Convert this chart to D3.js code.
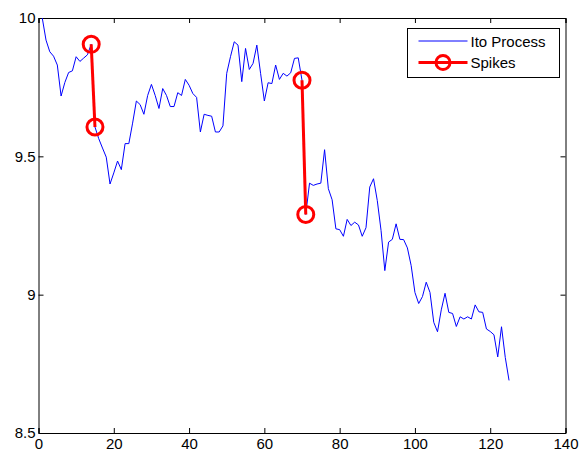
<!DOCTYPE html>
<html>
<head>
<meta charset="utf-8">
<script src="https://cdnjs.cloudflare.com/ajax/libs/d3/7.8.5/d3.min.js"></script>
<style>
body { margin: 0; background: #fff; }
.axis text { font-family: "Liberation Sans", Arial, sans-serif; font-size: 15px; fill: #000; }
.axis path, .axis line { stroke: #000; }
</style>
</head>
<body>
<div id="chart"></div>
<script>
var w = 580, h = 454;
var margin = {top: 18, right: 14.5, bottom: 21, left: 38.5};

// Ito process, sampled at t = 1..125
var itoValues = [
	10.00, 9.92, 9.878, 9.862, 9.83, 9.718, 9.767, 9.803, 9.809, 9.86,
	9.843, 9.855, 9.867, 9.905, 9.606, 9.564, 9.53, 9.497, 9.40, 9.44,
	9.483, 9.452, 9.546, 9.546, 9.62, 9.70, 9.687, 9.652, 9.72, 9.76,
	9.72, 9.673, 9.745, 9.72, 9.68, 9.68, 9.73, 9.72, 9.778, 9.757,
	9.727, 9.713, 9.588, 9.652, 9.648, 9.645, 9.588, 9.588, 9.61, 9.80,
	9.86, 9.914, 9.902, 9.77, 9.89, 9.814, 9.836, 9.902, 9.80, 9.70,
	9.766, 9.763, 9.83, 9.778, 9.80, 9.79, 9.802, 9.854, 9.856, 9.775,
	9.29, 9.403, 9.395, 9.40, 9.403, 9.524, 9.383, 9.343, 9.238, 9.235,
	9.211, 9.272, 9.25, 9.262, 9.252, 9.211, 9.242, 9.389, 9.419, 9.34,
	9.232, 9.087, 9.19, 9.20, 9.256, 9.20, 9.199, 9.169, 9.105, 9.008,
	8.968, 8.993, 9.045, 9.008, 8.90, 8.866, 8.945, 9.005, 8.936, 8.932,
	8.885, 8.92, 8.912, 8.92, 8.912, 8.963, 8.938, 8.936, 8.876, 8.867,
	8.855, 8.775, 8.884, 8.773, 8.69
];
var itoTimes = itoValues.map(function(d, i) { return i + 1; });

// the two jumps (before / after)
var spikes = [
	[[14, 9.905], [15, 9.606]],
	[[70, 9.775], [71, 9.29]]
];

var xTicks = [0, 20, 40, 60, 80, 100, 120, 140];
var yTicks = [8.5, 9, 9.5, 10];
var legendLabels = ["Ito Process", "Spikes"];

var data = itoTimes.map(function(t, i) {
	return {"t": t, "v": itoValues[i]};
});

var svg = d3.select("#chart")
			.append("svg")
			.attr("width", w)
			.attr("height", h);

/*Scales*/
var xScale = d3.scaleLinear()
				.domain([0, 140])
				.range([margin.left, w - margin.right]);
var yScale = d3.scaleLinear()
				.domain([8.5, 10])
				.range([h - margin.bottom, margin.top]);

svg.append("defs").append("clipPath")
	.attr("id", "clip")
	.append("rect")
	.attr("x", xScale(0))
	.attr("y", yScale(10))
	.attr("width", xScale(140) - xScale(0))
	.attr("height", yScale(8.5) - yScale(10));

/*Axes*/
var tick = 5;
svg.append("g")
	.attr("class", "axis")
	.attr("transform", "translate(0," + yScale(8.5) + ")")
	.call(d3.axisBottom(xScale).tickValues(xTicks).tickSize(-tick).tickPadding(3))
	.call(function(g) { g.selectAll("text").attr("dy", "0.85em"); });
svg.append("g")
	.attr("class", "axis")
	.attr("transform", "translate(0," + yScale(10) + ")")
	.call(d3.axisTop(xScale).tickValues(xTicks).tickSize(-tick).tickFormat(""));
svg.append("g")
	.attr("class", "axis")
	.attr("transform", "translate(" + xScale(0) + ",0)")
	.call(d3.axisLeft(yScale).tickValues(yTicks).tickSize(-tick).tickPadding(3).tickFormat(d3.format("")));
svg.append("g")
	.attr("class", "axis")
	.attr("transform", "translate(" + xScale(140) + ",0)")
	.call(d3.axisRight(yScale).tickValues(yTicks).tickSize(-tick).tickFormat(""));

/*Draw Ito line*/
var line = d3.line()
			.x(function(d) { return xScale(d.t); })
			.y(function(d) { return yScale(d.v); });
svg.append("path")
	.datum(data)
	.attr("clip-path", "url(#clip)")
	.attr("fill", "none")
	.attr("stroke", "#0000ff")
	.attr("stroke-width", 1)
	.attr("d", line);

/*Draw spikes*/
var spikeLine = d3.line()
			.x(function(d) { return xScale(d[0]); })
			.y(function(d) { return yScale(d[1]); });
spikes.forEach(function(s) {
	svg.append("path")
		.datum(s)
		.attr("fill", "none")
		.attr("stroke", "#ff0000")
		.attr("stroke-width", 3)
		.attr("d", spikeLine);
	svg.selectAll(null)
		.data(s)
		.enter()
		.append("circle")
		.attr("cx", function(d) { return xScale(d[0]); })
		.attr("cy", function(d) { return yScale(d[1]); })
		.attr("r", 8)
		.attr("fill", "none")
		.attr("stroke", "#ff0000")
		.attr("stroke-width", 3);
});

/*Legend*/
var lg = svg.append("g").attr("transform", "translate(407.5,28.5)");
lg.append("rect")
	.attr("width", 152)
	.attr("height", 49)
	.attr("fill", "#fff")
	.attr("stroke", "#000");
lg.append("line")
	.attr("x1", 11).attr("x2", 60)
	.attr("y1", 12.5).attr("y2", 12.5)
	.attr("stroke", "#0000ff");
lg.append("line")
	.attr("x1", 11).attr("x2", 60)
	.attr("y1", 34).attr("y2", 34)
	.attr("stroke", "#ff0000")
	.attr("stroke-width", 3);
lg.append("circle")
	.attr("cx", 35.5).attr("cy", 34).attr("r", 7)
	.attr("fill", "none")
	.attr("stroke", "#ff0000")
	.attr("stroke-width", 3);
lg.selectAll("text")
	.data(legendLabels)
	.enter()
	.append("text")
	.attr("x", 63)
	.attr("y", function(d, i) { return 18 + i * 21.5; })
	.attr("font-family", "Liberation Sans, Arial, sans-serif")
	.attr("font-size", 15)
	.text(function(d) { return d; });
</script>
</body>
</html>
